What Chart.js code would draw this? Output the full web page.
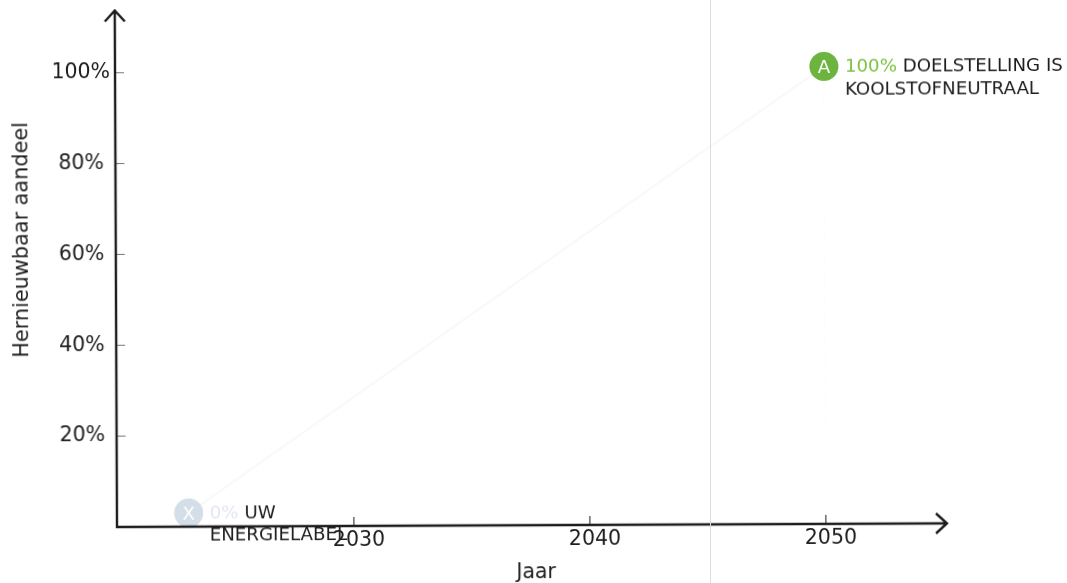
<!DOCTYPE html>
<html><head><meta charset="utf-8">
<style>
html,body{margin:0;padding:0;background:#fff;overflow:hidden}
#wrap{position:relative;width:1067px;height:583px}
canvas{position:absolute;left:0;top:0;transform-origin:116px 526px;transform:translate(1px,1px) rotate(-0.25deg)}
#fold{position:absolute;left:710px;top:0;width:1px;height:583px;background:#dcdcdc}
</style>
<script src="https://cdn.jsdelivr.net/npm/chart.js@4/dist/chart.umd.min.js"></script>
</head><body>
<div id="wrap"><canvas id="c" width="1067" height="583"></canvas><div id="fold"></div></div>
<script>
const lineYears = [2023, 2050];
const lineValues = [3, 100.7];
const dropYears = [2050, 2050];
const dropValues = [100.7, 20];
const xTicks = [2030, 2040, 2050];
const yTicks = [20, 40, 60, 80, 100];
const xTitle = 'Jaar';
const yTitle = 'Hernieuwbaar aandeel';
const markerLetters = ['X', 'A'];
const markerColors = ['#d3dee8', '#6cb33f'];
const labelPercents = ['0%', '100%'];
const labelPercentColors = ['#e2e6f0', '#7cc142'];
const labelFirst = ['UW', 'DOELSTELLING IS'];
const labelSecond = ['ENERGIELABEL', 'KOOLSTOFNEUTRAAL'];

const FONT = '"DejaVu Sans"';
const INK = '#1f1c1d';

const overlay = {
  id: 'overlay',
  afterDatasetsDraw(chart) {
    const {ctx, scales: {x, y}, chartArea: a} = chart;
    const right = a.right - 8, top = y.getPixelForValue(113.7);
    ctx.save();
    ctx.strokeStyle = INK;
    ctx.lineWidth = 1;
    xTicks.forEach(v => {
      const px = x.getPixelForValue(v);
      ctx.beginPath(); ctx.moveTo(px, a.bottom); ctx.lineTo(px, a.bottom - 9); ctx.stroke();
    });
    ctx.strokeStyle = '#777';
    yTicks.forEach(v => {
      const py = y.getPixelForValue(v);
      ctx.beginPath(); ctx.moveTo(a.left, py); ctx.lineTo(a.left + 9, py); ctx.stroke();
    });
    ctx.strokeStyle = INK;
    ctx.lineWidth = 2.4;
    ctx.beginPath();
    ctx.moveTo(a.left, top); ctx.lineTo(a.left, a.bottom); ctx.lineTo(right, a.bottom);
    ctx.moveTo(a.left - 10, top + 11); ctx.lineTo(a.left, top); ctx.lineTo(a.left + 10, top + 11);
    ctx.moveTo(right - 11, a.bottom - 10); ctx.lineTo(right, a.bottom); ctx.lineTo(right - 11, a.bottom + 10);
    ctx.stroke();
    ctx.textBaseline = 'alphabetic';
    lineYears.forEach((yr, i) => {
      const px = x.getPixelForValue(yr), py = y.getPixelForValue(lineValues[i]);
      ctx.font = '18.2px ' + FONT;
      ctx.fillStyle = '#fff';
      ctx.textAlign = 'center';
      ctx.fillText(markerLetters[i], px, py + 6.5);
      ctx.textAlign = 'left';
      const tx = px + 21, by = py + 5.5;
      ctx.fillStyle = labelPercentColors[i];
      ctx.fillText(labelPercents[i], tx, by);
      const w = ctx.measureText(labelPercents[i] + ' ').width;
      ctx.fillStyle = INK;
      ctx.fillText(labelFirst[i], tx + w, by);
      ctx.fillText(labelSecond[i], tx, by + 22.5);
    });
    // vertical axis title, placed off-centre as in the source
    ctx.translate(23, 238.5);
    ctx.rotate(-Math.PI / 2);
    ctx.textAlign = 'center';
    ctx.textBaseline = 'middle';
    ctx.font = '20.8px ' + FONT;
    ctx.fillStyle = INK;
    ctx.fillText(yTitle, 0, 0);
    ctx.restore();
  }
};

new Chart(document.getElementById('c'), {
  type: 'scatter',
  data: {
    datasets: [
      {
        data: lineYears.map((v, i) => ({x: v, y: lineValues[i]})),
        showLine: true, borderColor: '#f8f8f8', borderWidth: 2,
        pointRadius: 14.5, pointHoverRadius: 14.5,
        pointBackgroundColor: markerColors, pointBorderWidth: 0
      },
      {
        data: dropYears.map((v, i) => ({x: v, y: dropValues[i]})),
        showLine: true, borderColor: '#f9f9f9', borderWidth: 1, borderDash: [2, 3],
        pointRadius: 0
      }
    ]
  },
  plugins: [overlay],
  options: {
    responsive: false, animation: false, devicePixelRatio: 1,
    clip: false,
    layout: {padding: {left: 0, right: 113, top: 4, bottom: 0}},
    plugins: {legend: {display: false}, tooltip: {enabled: false}},
    scales: {
      x: {
        type: 'linear', min: 2019.96, max: 2055.47,
        afterBuildTicks(s) { s.ticks = xTicks.map(v => ({value: v})); },
        afterFit(s) { s.height = 57; s.paddingLeft = 0; s.paddingRight = 0; },
        grid: {display: false, drawTicks: false, tickLength: 0}, border: {display: false},
        ticks: {color: INK, padding: 2, labelOffset: 5, maxRotation: 0, autoSkip: false, font: {family: FONT, size: 20.5}, callback: v => String(v)},
        title: {display: true, text: xTitle, color: INK, font: {family: FONT, size: 20.5}, padding: {top: 4, bottom: -3}}
      },
      y: {
        type: 'linear', min: 0, max: 112.6,
        afterBuildTicks(s) { s.ticks = yTicks.map(v => ({value: v})); },
        afterFit(s) { s.width = 116; s.paddingTop = 0; s.paddingBottom = 0; },
        grid: {display: false, drawTicks: false, tickLength: 0}, border: {display: false},
        ticks: {color: INK, padding: 5, crossAlign: 'center', autoSkip: false, font: {family: FONT, size: 20.5}, callback: v => v + '%'}
      }
    }
  }
});
</script>
</body></html>
